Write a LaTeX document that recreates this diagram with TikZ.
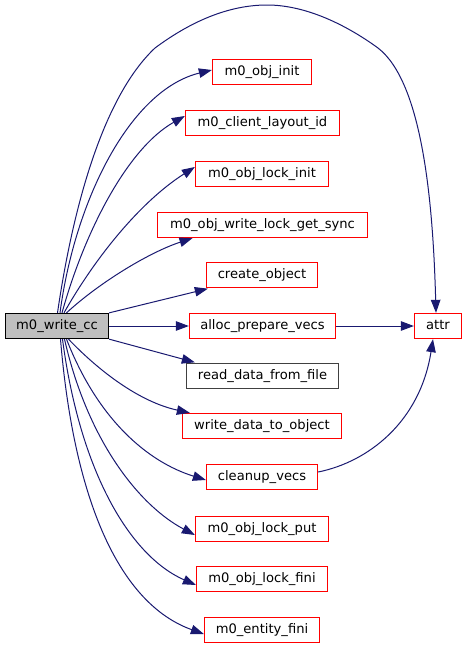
\documentclass[tikz,border=0pt]{standalone}
\usepackage{fontspec}
\setmainfont{DejaVu Sans}
\usetikzlibrary{arrows.meta}
\definecolor{edgeblue}{HTML}{191970}
\definecolor{boxred}{HTML}{FF0000}
\definecolor{boxgray}{HTML}{BFBFBF}
\begin{document}
\begin{tikzpicture}[x=1pt,y=-1pt,
  every node/.style={font=\fontsize{13.1}{15}\selectfont},
  fnbox/.style={draw=boxred, fill=white, line width=1.3pt, minimum height=25pt, minimum width=#1, inner xsep=0pt, inner ysep=0pt, text height=9.6pt, text depth=2.6pt},
  blackbox/.style={fnbox=#1, draw=black!75},
  rootbox/.style={fnbox=#1, draw=black, fill=boxgray},
  call/.style={draw=edgeblue, line width=1pt, -{Triangle[length=13pt,width=9.5pt]}}
]
\useasboundingbox (0,0) rectangle (465,648);

\node[rootbox=103pt] (root) at (57,326) {m0\_write\_cc};
\node[fnbox=99pt] (init) at (262,72) {m0\_obj\_init};
\node[fnbox=154pt] (layout) at (262.5,123) {m0\_client\_layout\_id};
\node[fnbox=133pt] (lockinit) at (262,174) {m0\_obj\_lock\_init};
\node[fnbox=210pt] (wlock) at (262.5,225) {m0\_obj\_write\_lock\_get\_sync};
\node[fnbox=111pt] (create) at (262,275) {create\_object};
\node[fnbox=146pt] (alloc) at (262.5,326) {alloc\_prepare\_vecs};
\node[blackbox=152pt] (read) at (262.5,376) {read\_data\_from\_file};
\node[fnbox=159pt] (write) at (262,426) {write\_data\_to\_object};
\node[fnbox=111pt] (cleanup) at (262,477) {cleanup\_vecs};
\node[fnbox=133pt] (lockput) at (262,529) {m0\_obj\_lock\_put};
\node[fnbox=131pt] (lockfini) at (262,579) {m0\_obj\_lock\_fini};
\node[fnbox=115pt] (entfini) at (262,630) {m0\_entity\_fini};
\node[fnbox=47pt] (attr) at (438,326) {attr};

\coordinate (a1) at (155,48);
\coordinate (a2) at (267,5);
\coordinate (a3) at (378,48);

% root -> attr over the top
\draw[call] (root.north) ++(0.5,0) coordinate (s0)
  (s0) .. controls (74,200) and (105,95) .. (a1)
  .. controls (190,22) and (228,5) .. (a2)
  .. controls (305,5) and (345,24) .. (a3)
  .. controls (422,82) and (433,200) .. ([xshift=-2pt]attr.north);

\draw[call] (root.north) ++(3,0) coordinate (s1)
  (s1) .. controls (75,200) and (130,90) .. ([yshift=2pt]init.west);
\draw[call] (root.north) ++(5,0) coordinate (s2)
  (s2) .. controls (85,230) and (128,148) .. ([yshift=7pt]layout.west);
\draw[call] (root.north) ++(7,0) coordinate (s3)
  (s3) .. controls (95,258) and (140,202) .. ([yshift=7pt]lockinit.west);
\draw[call] (root.north) ++(9.5,0) coordinate (s4)
  (s4) .. controls (100,282) and (150,252) .. ([xshift=-70pt]wlock.south);
\draw[call] (root.north east) -- ([xshift=2pt,yshift=-0.5pt]create.south west);
\draw[call] (root.east) -- (alloc.west);
\draw[call] (root.south east) -- ([xshift=9pt,yshift=0.5pt]read.north west);
\draw[call] (root.south) ++(11.5,0) coordinate (t1)
  (t1) .. controls (100,372) and (140,402) .. ([xshift=8pt]write.north west);
\draw[call] (root.south) ++(9.5,0) coordinate (t2)
  (t2) .. controls (98,420) and (148,462) .. ([yshift=-3pt]cleanup.west);
\draw[call] (root.south) ++(7.5,0) coordinate (t3)
  (t3) .. controls (88,442) and (140,506) .. ([yshift=-6pt]lockput.west);
\draw[call] (root.south) ++(5.5,0) coordinate (t4)
  (t4) .. controls (80,472) and (130,556) .. ([yshift=-6pt]lockfini.west);
\draw[call] (root.south) ++(3.5,0) coordinate (t5)
  (t5) .. controls (74,502) and (120,604) .. ([yshift=-4pt]entfini.west);

\draw[call] (alloc.east) -- (attr.west);
\draw[call] (cleanup.east) ++(0,-5) coordinate (c1)
  (c1) .. controls (368,462) and (420,422) .. ([xshift=-5pt]attr.south);
\end{tikzpicture}
\end{document}
